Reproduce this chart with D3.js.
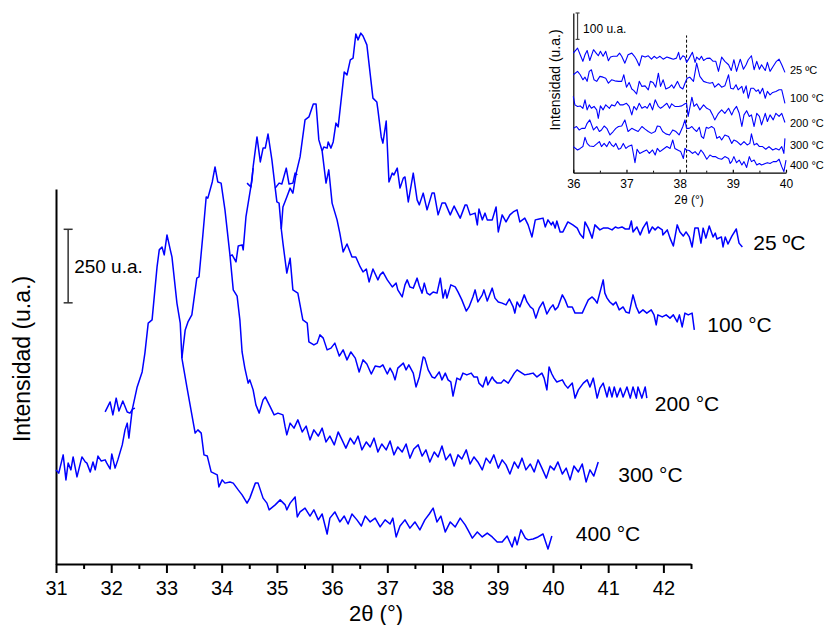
<!DOCTYPE html>
<html>
<head>
<meta charset="utf-8">
<script src="https://cdn.jsdelivr.net/npm/d3@7"></script>
<style>
  body { margin: 0; background: #fff; }
  svg { display: block; }
</style>
</head>
<body>
<svg id="chart" width="826" height="625"></svg>
<script>
// ---------- Main panel: XRD patterns, stacked (shifted in 2θ and intensity) ----------
const tempLabels = ["25 ºC", "100 °C", "200 °C", "300 °C", "400 °C"];

const theta25 = [34.97,35.04,35.09,35.17,35.22,35.29,35.33,35.37,null,
  35.82,35.85,35.91,35.93,35.98,36.02,36.07,36.11,36.22,36.27,36.33,
  36.38,36.43,36.47,36.52,36.56,36.63,36.74,36.81,36.83,36.89,
  36.92,36.98,37.03,37.09,37.12,37.18,37.23,37.29,37.32,37.38,
  37.47,37.54,37.58,37.65,37.72,37.81,37.85,37.92,37.99,38.05,
  38.14,38.21,38.32,38.41,38.44,38.50,38.59,38.63,38.66,38.72,
  38.77,38.81,38.90,38.97,39.01,39.08,39.15,39.22,39.28,39.35,
  39.40,39.49,39.55,39.62,39.68,39.75,39.82,39.86,39.91,39.97,
  40.00,40.04,40.07,40.13,40.18,40.27,40.36,40.44,40.49,40.55,
  40.58,40.64,40.71,40.76,40.85,40.91,41.00,41.07,41.13,41.18,
  41.25,41.31,41.38,41.42,41.45,41.52,41.58,41.63,41.70,41.74,
  41.80,41.85,41.90,41.98,41.99,42.07,42.12,42.18,42.25,42.30,
  42.36,42.41,42.47,42.52,42.57,42.63,42.68,42.72,42.77,42.83,
  42.90,42.94,42.97,43.05,43.08,43.12,43.17,43.24,43.32,43.37,43.43];
const int25 = [1278,1295,1292,1346,1292,1295,1329,1323,null,
  1404,1418,1414,1435,1414,1435,1499,1486,1673,1663,1714,
  1720,1802,1782,1805,1795,1765,1584,1571,1544,1452,
  1431,1506,1299,1329,1323,1346,1278,1312,1316,1231,
  1329,1238,1221,1261,1204,1261,1261,1187,1227,1227,
  1187,1217,1176,1221,1221,1187,1193,1153,1207,1170,
  1193,1170,1170,1214,1129,1187,1163,1187,1197,1204,
  1163,1176,1153,1112,1170,1173,1176,1146,1170,1153,
  1163,1142,1166,1129,1129,1163,1153,1142,1122,1108,
  1163,1142,1108,1153,1136,1142,1142,1136,1146,1142,
  1146,1139,1139,1166,1129,1146,1119,1142,1163,1125,
  1146,1136,1146,1136,1119,1136,1108,1081,1153,1129,
  1115,1129,1112,1078,1142,1142,1091,1142,1108,1149,
  1112,1125,1105,1112,1078,1112,1088,1115,1139,1091,1078];

const theta100 = [34.46,34.53,34.57,null,
  35.08,35.11,35.18,35.24,35.29,35.35,35.42,35.51,35.58,35.66,
  35.71,35.76,35.82,35.89,35.94,36.00,36.09,36.14,36.20,36.27,
  36.36,36.43,36.51,36.56,36.62,36.67,36.74,36.83,36.87,36.92,
  37.00,37.09,37.16,37.19,37.27,37.32,37.36,37.41,37.47,37.54,
  37.58,37.63,37.67,37.72,37.77,37.83,37.90,37.96,38.01,38.05,
  38.08,38.15,38.23,38.28,38.35,38.43,38.48,38.55,38.59,38.64,
  38.72,38.75,38.81,38.90,38.95,39.01,39.08,39.15,39.21,39.28,
  39.31,39.35,39.40,39.48,39.53,39.59,39.64,39.69,39.75,39.82,
  39.89,39.95,40.00,40.04,40.09,40.17,40.22,40.27,40.35,40.40,
  40.46,40.53,40.58,40.64,40.71,40.76,40.80,40.91,40.94,40.98,
  41.03,41.09,41.14,41.20,41.27,41.32,41.38,41.45,41.51,41.56,
  41.63,41.70,41.78,41.83,41.87,41.90,41.98,42.05,42.12,42.18,
  42.25,42.29,42.34,42.39,42.45,42.52,42.56];
const int100 = [1295,1282,1346,null,
  1139,1214,1248,1278,1261,1329,1384,1510,1520,1564,
  1564,1442,1404,1295,1340,1227,1170,1125,1061,1088,
  1044,1044,1010,993,1003,959,1003,966,983,993,
  966,942,955,932,908,949,966,942,938,972,
  945,921,955,921,915,925,921,972,904,932,
  904,949,942,925,898,860,874,908,932,891,
  915,932,894,938,904,891,887,881,901,874,
  853,891,874,915,891,874,867,836,870,891,
  850,870,881,864,874,915,898,874,874,853,
  853,853,874,898,908,898,887,966,921,904,
  891,881,891,864,874,857,853,915,874,853,
  864,853,864,847,813,847,840,847,836,847,
  823,847,806,853,847,853,796];

const theta200 = [34.15,34.19,34.26,34.30,34.37,34.39,34.44,34.51,34.55,34.57,34.64,
  34.70,34.75,34.79,34.84,34.91,34.97,35.00,35.04,35.08,35.11,
  35.18,35.24,35.29,35.38,35.47,35.55,35.58,35.67,35.73,35.78,
  35.84,35.91,35.98,36.05,36.13,36.20,36.27,36.34,36.42,36.49,
  36.56,36.63,36.71,36.78,36.87,36.92,37.00,37.05,37.10,37.14,
  37.19,37.29,37.34,37.39,37.47,37.52,37.58,37.65,37.68,37.74,
  37.81,37.86,37.94,37.99,38.05,38.10,38.15,38.19,38.26,38.32,
  38.37,38.44,38.52,38.57,38.63,38.66,38.73,38.79,38.82,38.90,
  38.93,38.99,39.06,39.11,39.19,39.26,39.30,39.35,39.44,39.49,
  39.57,39.64,39.71,39.80,39.84,39.89,39.93,39.98,40.02,40.07,
  40.17,40.22,40.27,40.35,40.40,40.46,40.55,40.62,40.67,40.73,
  40.80,40.85,40.91,40.98,41.02,41.07,41.11,41.16,41.22,41.27,
  41.34,41.40,41.45,41.51,41.54,41.61,41.67,41.70];
const int200 = [1047,1051,1027,1081,1085,1068,1180,1261,1306,1350,1452,
  1367,1414,1414,1462,1374,1278,1231,1227,1139,1091,
  989,1040,932,921,830,819,755,745,751,779,
  768,728,734,751,707,728,694,721,700,653,
  694,680,646,673,670,677,646,666,649,626,
  666,683,660,677,649,602,636,704,700,660,
  636,632,653,626,649,626,619,571,632,626,
  649,643,649,636,636,615,602,636,609,636,
  626,615,615,626,615,636,649,660,649,643,
  646,649,636,649,632,592,670,646,632,619,
  626,609,598,615,564,592,615,626,602,632,
  564,598,615,568,602,568,602,568,598,568,
  602,564,602,564,602,564,602,564];

const theta300 = [31.89,31.98,32.03,32.09,32.14,32.21,32.29,32.34,32.39,32.43,null,
  33.28,33.34,33.39,33.46,33.55,33.59,33.66,33.72,33.75,33.83,
  33.88,33.93,33.99,34.06,34.15,34.21,34.28,34.33,34.37,34.42,
  34.48,34.51,34.57,34.62,34.68,34.75,34.79,34.88,34.95,35.02,
  35.11,35.15,35.18,35.24,
  35.31,35.38,35.46,35.53,35.60,35.67,35.75,35.82,35.89,35.96,
  36.04,36.11,36.18,36.25,36.33,36.40,36.47,36.54,36.62,36.69,
  36.76,36.83,36.90,36.98,37.05,37.12,37.19,37.27,37.34,37.41,
  37.48,37.56,37.63,37.70,37.77,37.85,37.92,37.99,38.06,38.14,
  38.21,38.28,38.35,38.43,38.50,38.57,38.64,38.72,38.79,38.86,
  38.93,39.01,39.08,39.15,39.22,39.30,39.37,39.44,39.51,39.59,
  39.66,39.73,39.80,39.88,39.95,40.02,40.09,40.17,40.24,40.31,
  40.38,40.46,40.53,40.60,40.67,40.74,40.82];
const int300 = [517,551,507,564,520,554,517,513,527,530,null,
  700,796,823,847,972,976,1119,1248,1244,1299,
  1350,1299,1295,1204,1051,932,911,830,721,666,
  615,626,592,541,513,558,568,534,507,513,
  507,466,439,479,
  462,490,449,469,422,456,435,462,415,435,
  405,449,422,394,428,408,435,388,415,398,
  428,381,408,388,418,371,398,381,408,360,
  391,405,367,388,347,381,364,401,354,374,
  333,371,357,388,340,364,347,320,360,343,
  371,326,354,337,306,347,326,360,320,340,
  313,354,326,292,333,320,347,306,326,286,
  333,313,340,279,320,299,347];

const theta400 = [31.00,31.05,31.13,31.18,31.22,31.27,31.31,31.38,31.47,31.53,
  31.56,31.62,31.67,31.71,31.76,31.82,31.89,31.92,31.98,32.01,
  32.07,32.12,32.20,32.25,32.29,32.32,32.38,32.47,32.56,32.61,
  32.67,32.74,32.83,32.87,32.92,32.96,33.01,33.07,33.10,33.19,
  33.25,33.28,33.37,33.52,33.57,33.63,33.68,33.74,33.81,33.92,
  33.95,34.01,34.06,34.15,34.21,34.30,34.37,34.46,34.51,34.61,
  34.66,34.75,34.82,34.86,34.97,35.06,35.15,35.18,35.24,35.33,
  35.37,35.42,35.51,35.60,35.67,35.75,35.82,35.91,35.96,36.05,
  36.14,36.22,36.29,36.36,36.45,36.53,36.60,36.69,36.78,36.87,
  36.96,37.05,37.10,37.16,37.23,37.32,37.41,37.50,37.59,37.68,
  37.76,37.83,37.90,37.97,38.05,38.14,38.23,38.32,38.41,38.46,
  38.54,38.63,38.72,38.81,38.90,38.99,39.08,39.17,39.26,39.31,
  39.35,39.42,39.50,39.55,39.64,39.73,39.82,39.91,39.98];
const int400 = [320,309,371,286,343,320,364,296,364,347,
  343,313,347,320,367,350,354,343,323,374,
  326,354,405,456,479,428,524,602,653,717,
  819,830,1010,1068,1078,1051,1119,1068,1044,887,
  819,700,602,445,456,445,371,367,313,303,
  262,286,275,279,275,252,235,207,224,275,
  275,224,207,184,201,218,201,184,207,228,
  160,177,190,163,184,150,170,102,156,177,
  143,163,136,170,150,129,163,143,156,126,
  150,136,156,92,129,150,122,143,116,150,
  170,190,143,163,109,143,126,156,133,116,
  88,109,92,105,92,75,75,95,58,92,
  65,116,88,82,85,92,102,51,95];

const mainTicks = [31, 32, 33, 34, 35, 36, 37, 38, 39, 40, 41, 42];
const mainMinorTicks = [31.5, 32.5, 33.5, 34.5, 35.5, 36.5, 37.5, 38.5, 39.5, 40.5, 41.5, 42.5];
const mainScaleBar = [888, 1138];   // 250 u.a.

// ---------- Inset: 36–40° window, unshifted ----------
const insetTheta25 = [36.00,36.08,36.13,36.18,36.22,36.26,36.31,36.38,36.43,36.47,
  36.51,36.56,36.61,36.66,36.70,36.75,36.82,36.87,36.91,36.97,
  37.03,37.10,37.15,37.19,37.24,37.29,37.35,37.41,37.47,37.52,
  37.57,37.63,37.69,37.76,37.82,37.88,37.94,37.98,38.01,38.06,
  38.10,38.13,38.18,38.24,38.29,38.32,38.37,38.41,38.45,38.51,
  38.57,38.63,38.68,38.73,38.79,38.85,38.92,38.97,39.02,39.07,
  39.14,39.20,39.25,39.29,39.35,39.40,39.45,39.50,39.54,39.61,
  39.65,39.70,39.76,39.82,39.87,39.92,39.98];
const insetInt25 = [453,472,447,422,447,463,425,466,453,443,
  460,441,460,424,438,441,441,453,441,415,
  447,453,441,428,405,443,438,443,430,441,
  433,441,430,438,434,430,434,456,428,443,
  438,418,434,456,418,438,428,441,425,433,
  434,422,422,384,438,422,409,387,428,384,
  430,392,409,428,443,390,422,392,409,387,
  418,384,403,422,430,409,380];

const insetTheta100 = [36.00,36.08,36.13,36.18,36.22,36.26,36.30,36.34,36.39,36.44,
  36.50,36.56,36.61,36.66,36.72,36.78,36.85,36.91,36.95,37.00,
  37.05,37.10,37.14,37.19,37.24,37.29,37.35,37.41,37.45,37.50,
  37.55,37.60,37.64,37.69,37.74,37.81,37.85,37.89,37.96,38.01,
  38.06,38.10,38.14,38.19,38.26,38.32,38.38,38.45,38.51,38.57,
  38.62,38.66,38.73,38.79,38.85,38.92,38.96,39.01,39.06,39.10,
  39.17,39.20,39.25,39.29,39.34,39.39,39.44,39.48,39.51,39.56,
  39.61,39.65,39.70,39.75,39.81,39.87,39.92,39.98];
const insetInt100 = [371,384,371,352,362,346,384,390,352,346,
  365,362,358,339,352,348,346,346,371,324,
  342,317,311,298,346,327,329,314,346,342,
  324,377,327,352,317,324,333,320,346,324,
  317,339,358,362,346,415,365,346,342,339,
  342,324,337,324,329,371,320,317,333,314,
  327,301,329,282,320,320,308,314,299,320,
  282,308,295,304,308,314,314,263];

const insetTheta200 = [36.00,36.03,36.08,36.13,36.18,36.22,36.26,36.30,36.34,36.39,
  36.44,36.47,36.51,36.56,36.61,36.68,36.72,36.78,36.83,36.88,
  36.94,37.00,37.05,37.10,37.14,37.19,37.24,37.29,37.35,37.39,
  37.44,37.49,37.54,37.60,37.64,37.69,37.76,37.81,37.85,37.91,
  37.98,38.04,38.10,38.13,38.16,38.23,38.27,38.32,38.38,38.45,
  38.51,38.57,38.62,38.66,38.73,38.79,38.85,38.92,38.98,39.02,
  39.07,39.12,39.17,39.21,39.26,39.31,39.35,39.40,39.45,39.50,
  39.54,39.61,39.65,39.70,39.76,39.81,39.87,39.92,39.98];
const insetInt200 = [289,257,251,253,244,276,238,257,244,251,
  238,206,253,238,257,244,257,253,270,257,
  257,263,251,219,251,238,263,244,251,244,
  263,238,276,251,244,251,263,244,261,251,
  251,253,261,263,213,286,251,261,238,257,
  244,238,219,200,225,238,225,244,219,238,
  251,225,175,219,235,213,219,175,225,213,
  181,225,194,219,200,225,213,225,190];

const insetTheta300 = [36.00,36.06,36.11,36.16,36.22,36.26,36.31,36.38,36.44,36.49,
  36.53,36.58,36.63,36.69,36.75,36.80,36.85,36.91,36.97,37.03,
  37.10,37.16,37.22,37.29,37.35,37.41,37.47,37.54,37.58,37.63,
  37.68,37.74,37.81,37.87,37.93,37.99,38.06,38.10,38.13,38.18,
  38.23,38.27,38.32,38.37,38.41,38.45,38.50,38.54,38.60,38.65,
  38.70,38.75,38.79,38.85,38.92,38.98,39.02,39.08,39.15,39.21,
  39.27,39.32,39.35,39.40,39.45,39.50,39.56,39.62,39.68,39.75,
  39.81,39.87,39.92,39.96,39.98];
const insetInt300 = [168,175,162,168,168,187,200,162,175,156,
  162,177,168,143,156,168,175,177,200,156,
  168,162,156,175,165,156,149,156,177,175,
  156,147,143,162,156,143,175,200,168,168,
  175,165,156,172,137,130,172,168,175,168,
  130,137,124,143,137,111,124,118,105,118,
  105,111,147,105,111,99,99,89,99,86,
  92,86,99,73,130];

const insetTheta400 = [36.00,36.08,36.13,36.18,36.22,36.26,36.31,36.38,36.44,36.49,
  36.53,36.58,36.63,36.68,36.72,36.76,36.80,36.85,36.89,36.94,
  36.99,37.03,37.10,37.16,37.20,37.25,37.32,37.38,37.43,37.49,
  37.54,37.58,37.63,37.69,37.76,37.82,37.87,37.91,37.98,38.02,
  38.07,38.10,38.13,38.18,38.24,38.29,38.35,38.40,38.45,38.51,
  38.57,38.62,38.67,38.73,38.79,38.85,38.92,38.95,38.98,39.02,
  39.07,39.12,39.17,39.21,39.26,39.31,39.35,39.40,39.45,39.50,
  39.54,39.61,39.65,39.70,39.76,39.82,39.87,39.92,39.96,40.00];
const insetInt400 = [99,86,92,99,134,111,101,99,109,118,
  99,111,99,118,105,99,111,89,92,111,
  92,99,105,38,89,73,80,86,73,86,
  67,92,80,89,99,92,124,92,84,80,
  54,92,86,84,73,80,67,86,73,51,
  67,61,61,54,51,61,54,35,42,61,
  38,48,29,42,20,61,42,48,29,35,
  29,35,38,35,42,42,51,23,4,48];

const insetTicks = [36, 37, 38, 39, 40];
const insetMinorTicks = [36.5, 37.5, 38.5, 39.5];
const insetReflection = 38.13;       // dashed reference position, 2θ
const insetScaleBar = [505, 605];    // 100 u.a.

// ---------- drawing ----------
const FONT = "Arial, 'Liberation Sans', Helvetica, sans-serif";
const BLUE = "#0000ff";
const svg = d3.select("#chart");

const zip = (t, v) => t.map((d, i) => [d, v[i]]);

const mainSeries = [
  { label: tempLabels[0], pts: zip(theta25, int25),  lab: [11, 3] },
  { label: tempLabels[1], pts: zip(theta100, int100), lab: [13, 2] },
  { label: tempLabels[2], pts: zip(theta200, int200), lab: [8, 13] },
  { label: tempLabels[3], pts: zip(theta300, int300), lab: [20, 20] },
  { label: tempLabels[4], pts: zip(theta400, int400), lab: [24, 5] }
];
const insetSeries = [
  { label: tempLabels[0], pts: zip(insetTheta25, insetInt25) },
  { label: tempLabels[1], pts: zip(insetTheta100, insetInt100) },
  { label: tempLabels[2], pts: zip(insetTheta200, insetInt200) },
  { label: tempLabels[3], pts: zip(insetTheta300, insetInt300) },
  { label: tempLabels[4], pts: zip(insetTheta400, insetInt400) }
];

function styleAxis(g, w, size) {
  g.select(".domain").attr("stroke", "#000").attr("stroke-width", w);
  g.selectAll(".tick line").attr("stroke", "#000").attr("stroke-width", w);
  g.selectAll(".tick text").attr("fill", "#000")
    .style("font-family", FONT).style("font-size", size + "px");
}

// main scales
const x = d3.scaleLinear().domain([31, 42.5]).range([56, 691]);
const y = d3.scaleLinear().domain([0, 1275]).range([564, 189]);

// bottom axis
const gx = svg.append("g").attr("transform", `translate(0,${y(0)})`)
  .call(d3.axisBottom(x).tickValues(mainTicks).tickSize(9).tickSizeOuter(0)
    .tickPadding(8).tickFormat(d3.format("d")));
styleAxis(gx, 2, 20);
const gxm = svg.append("g").attr("transform", `translate(0,${y(0)})`)
  .call(d3.axisBottom(x).tickValues(mainMinorTicks).tickSize(5).tickSizeOuter(0).tickFormat(""));
gxm.select(".domain").remove();
gxm.selectAll(".tick line").attr("stroke", "#000").attr("stroke-width", 2);

// left spine
const gy = svg.append("g").attr("transform", `translate(${x(31)},0)`)
  .call(d3.axisLeft(y).tickValues([]).tickSizeOuter(0));
styleAxis(gy, 2, 20);

svg.append("text").attr("x", 376).attr("y", 621).attr("text-anchor", "middle")
  .style("font-family", FONT).style("font-size", "22px").text("2θ (°)");
svg.append("text").attr("transform", "translate(30,359) rotate(-90)").attr("text-anchor", "middle")
  .style("font-family", FONT).style("font-size", "23px").text("Intensidad (u.a.)");

// patterns
const line = d3.line().defined(d => d[1] != null).x(d => x(d[0])).y(d => y(d[1]));
svg.append("g").selectAll("path").data(mainSeries).join("path")
  .attr("d", d => line(d.pts)).attr("fill", "none").attr("stroke", BLUE)
  .attr("stroke-width", 1.5).attr("stroke-linejoin", "round");

// temperature labels next to the end of each pattern
svg.append("g").selectAll("text").data(mainSeries).join("text")
  .attr("x", d => x(d.pts[d.pts.length - 1][0]) + d.lab[0])
  .attr("y", d => y(d.pts[d.pts.length - 1][1]) + d.lab[1])
  .style("font-family", FONT).style("font-size", "21px").attr("fill", "#000")
  .text(d => d.label);

// intensity scale bar
const sbx = x(31.22);
const sb = svg.append("g").attr("stroke", "#333").attr("stroke-width", 1.5);
sb.append("line").attr("x1", sbx).attr("x2", sbx).attr("y1", y(mainScaleBar[0])).attr("y2", y(mainScaleBar[1]));
mainScaleBar.forEach(v => sb.append("line").attr("x1", sbx - 4.5).attr("x2", sbx + 4.5).attr("y1", y(v)).attr("y2", y(v)));
svg.append("text").attr("x", sbx + 6).attr("y", y((mainScaleBar[0] + mainScaleBar[1]) / 2) + 7)
  .style("font-family", FONT).style("font-size", "19px").text("250 u.a.");

// ---------- inset ----------
const xi = d3.scaleLinear().domain([36, 40]).range([573.3, 786]);
const yi = d3.scaleLinear().domain([0, 605]).range([172.7, 13]);

const gxi = svg.append("g").attr("transform", `translate(0,${yi(0)})`)
  .call(d3.axisBottom(xi).tickValues(insetTicks).tickSize(-3).tickSizeOuter(0)
    .tickPadding(7).tickFormat(d3.format("d")));
styleAxis(gxi, 1.2, 12);
const gxim = svg.append("g").attr("transform", `translate(0,${yi(0)})`)
  .call(d3.axisBottom(xi).tickValues(insetMinorTicks).tickSize(-2).tickSizeOuter(0).tickFormat(""));
gxim.select(".domain").remove();
gxim.selectAll(".tick line").attr("stroke", "#000").attr("stroke-width", 1);

const gyi = svg.append("g").attr("transform", `translate(${xi(36)},0)`)
  .call(d3.axisLeft(yi).tickValues([]).tickSizeOuter(0));
styleAxis(gyi, 1.2, 12);

svg.append("text").attr("x", 689).attr("y", 204).attr("text-anchor", "middle")
  .style("font-family", FONT).style("font-size", "12px").text("2θ (°)");
svg.append("text").attr("transform", "translate(560,80) rotate(-90)").attr("text-anchor", "middle")
  .style("font-family", FONT).style("font-size", "14px").text("Intensidad (u.a.)");

svg.append("line").attr("x1", xi(insetReflection)).attr("x2", xi(insetReflection))
  .attr("y1", yi(0)).attr("y2", yi(520)).attr("stroke", "#000")
  .attr("stroke-width", 1).attr("stroke-dasharray", "3,2");

const linei = d3.line().x(d => xi(d[0])).y(d => yi(d[1]));
svg.append("g").selectAll("path").data(insetSeries).join("path")
  .attr("d", d => linei(d.pts)).attr("fill", "none").attr("stroke", BLUE)
  .attr("stroke-width", 1.1).attr("stroke-linejoin", "round");

const insetLabelY = [74, 102, 127, 149, 169];
svg.append("g").selectAll("text").data(insetSeries).join("text")
  .attr("x", xi(40) + 4).attr("y", (d, i) => insetLabelY[i])
  .style("font-family", FONT).style("font-size", "11px").text(d => d.label);

const sbi = xi(36.08);
const sbg = svg.append("g").attr("stroke", "#444").attr("stroke-width", 1.2);
sbg.append("line").attr("x1", sbi).attr("x2", sbi).attr("y1", yi(insetScaleBar[0])).attr("y2", yi(insetScaleBar[1]));
insetScaleBar.forEach(v => sbg.append("line").attr("x1", sbi - 2).attr("x2", sbi + 2).attr("y1", yi(v)).attr("y2", yi(v)));
svg.append("text").attr("x", sbi + 5.5).attr("y", yi((insetScaleBar[0] + insetScaleBar[1]) / 2) + 7)
  .style("font-family", FONT).style("font-size", "12px").text("100 u.a.");
</script>
</body>
</html>
